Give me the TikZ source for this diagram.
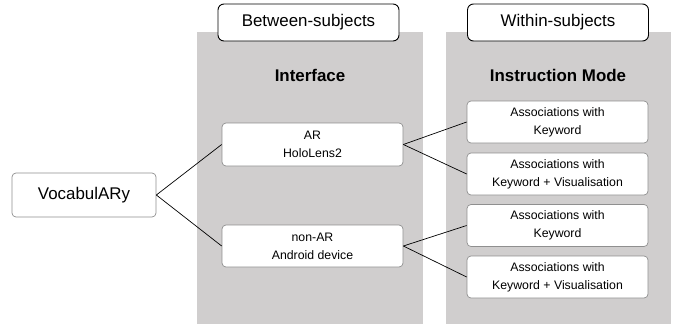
\documentclass[tikz,border=0pt]{standalone}
\usepackage{fontspec}
\setmainfont{Liberation Sans}
\usetikzlibrary{positioning}

\definecolor{panelgray}{HTML}{D0CECE}
\definecolor{boxline}{HTML}{8F8F8F}

\begin{document}
\begin{tikzpicture}[
    x=1pt, y=-1pt,
    panel/.style={fill=panelgray},
    header/.style={rectangle, rounded corners=6, draw=black, line width=0.9pt, fill=white,
      minimum width=181, minimum height=37, inner sep=0pt, font=\fontsize{16.9}{20}\selectfont},
    title/.style={inner sep=0pt, font=\fontsize{16.9}{20}\selectfont\bfseries},
    item/.style={rectangle, rounded corners=4, draw=boxline, line width=0.7pt, fill=white,
      minimum width=181, minimum height=42, inner sep=0pt, align=center,
      font=\fontsize{12.3}{17.7}\selectfont},
    root/.style={item, minimum width=144, minimum height=44, font=\fontsize{16.9}{20}\selectfont},
    link/.style={draw=black, line width=0.7pt}
  ]
  \useasboundingbox (0,0) rectangle (674,324);

  % background panels
  \fill[panel] (197,32) rectangle (423,324);
  \fill[panel] (446,32) rectangle (671,324);

  \node[header] (between) at (308.5,22.5) {Between-subjects};
  \node[header] (within) at (558,22.5) {Within-subjects};
  \node[title] (interface) at (310,75) {Interface};
  \node[title] (mode) at (558,75) {Instruction Mode};

  \node[root] (vocab) at (84,195) {VocabulARy};

  \node[item, minimum height=43] (ar) at (312.5,144.5) {AR\\HoloLens2};
  \node[item] (nonar) at (312.5,246) {non-AR\\Android device};

  \node[item] (arkw) at (557.5,122) {Associations with\\Keyword};
  \node[item] (arvis) at (557.5,174) {Associations with\\Keyword + Visualisation};
  \node[item] (nonarkw) at (557.5,225.5) {Associations with\\Keyword};
  \node[item] (nonarvis) at (557.5,277) {Associations with\\Keyword + Visualisation};

  \draw[link] (vocab.east) -- (ar.west);
  \draw[link] (vocab.east) -- (nonar.west);
  \draw[link] (ar.east) -- (arkw.west);
  \draw[link] (ar.east) -- (arvis.west);
  \draw[link] (nonar.east) -- (nonarkw.west);
  \draw[link] (nonar.east) -- (nonarvis.west);
\end{tikzpicture}
\end{document}
